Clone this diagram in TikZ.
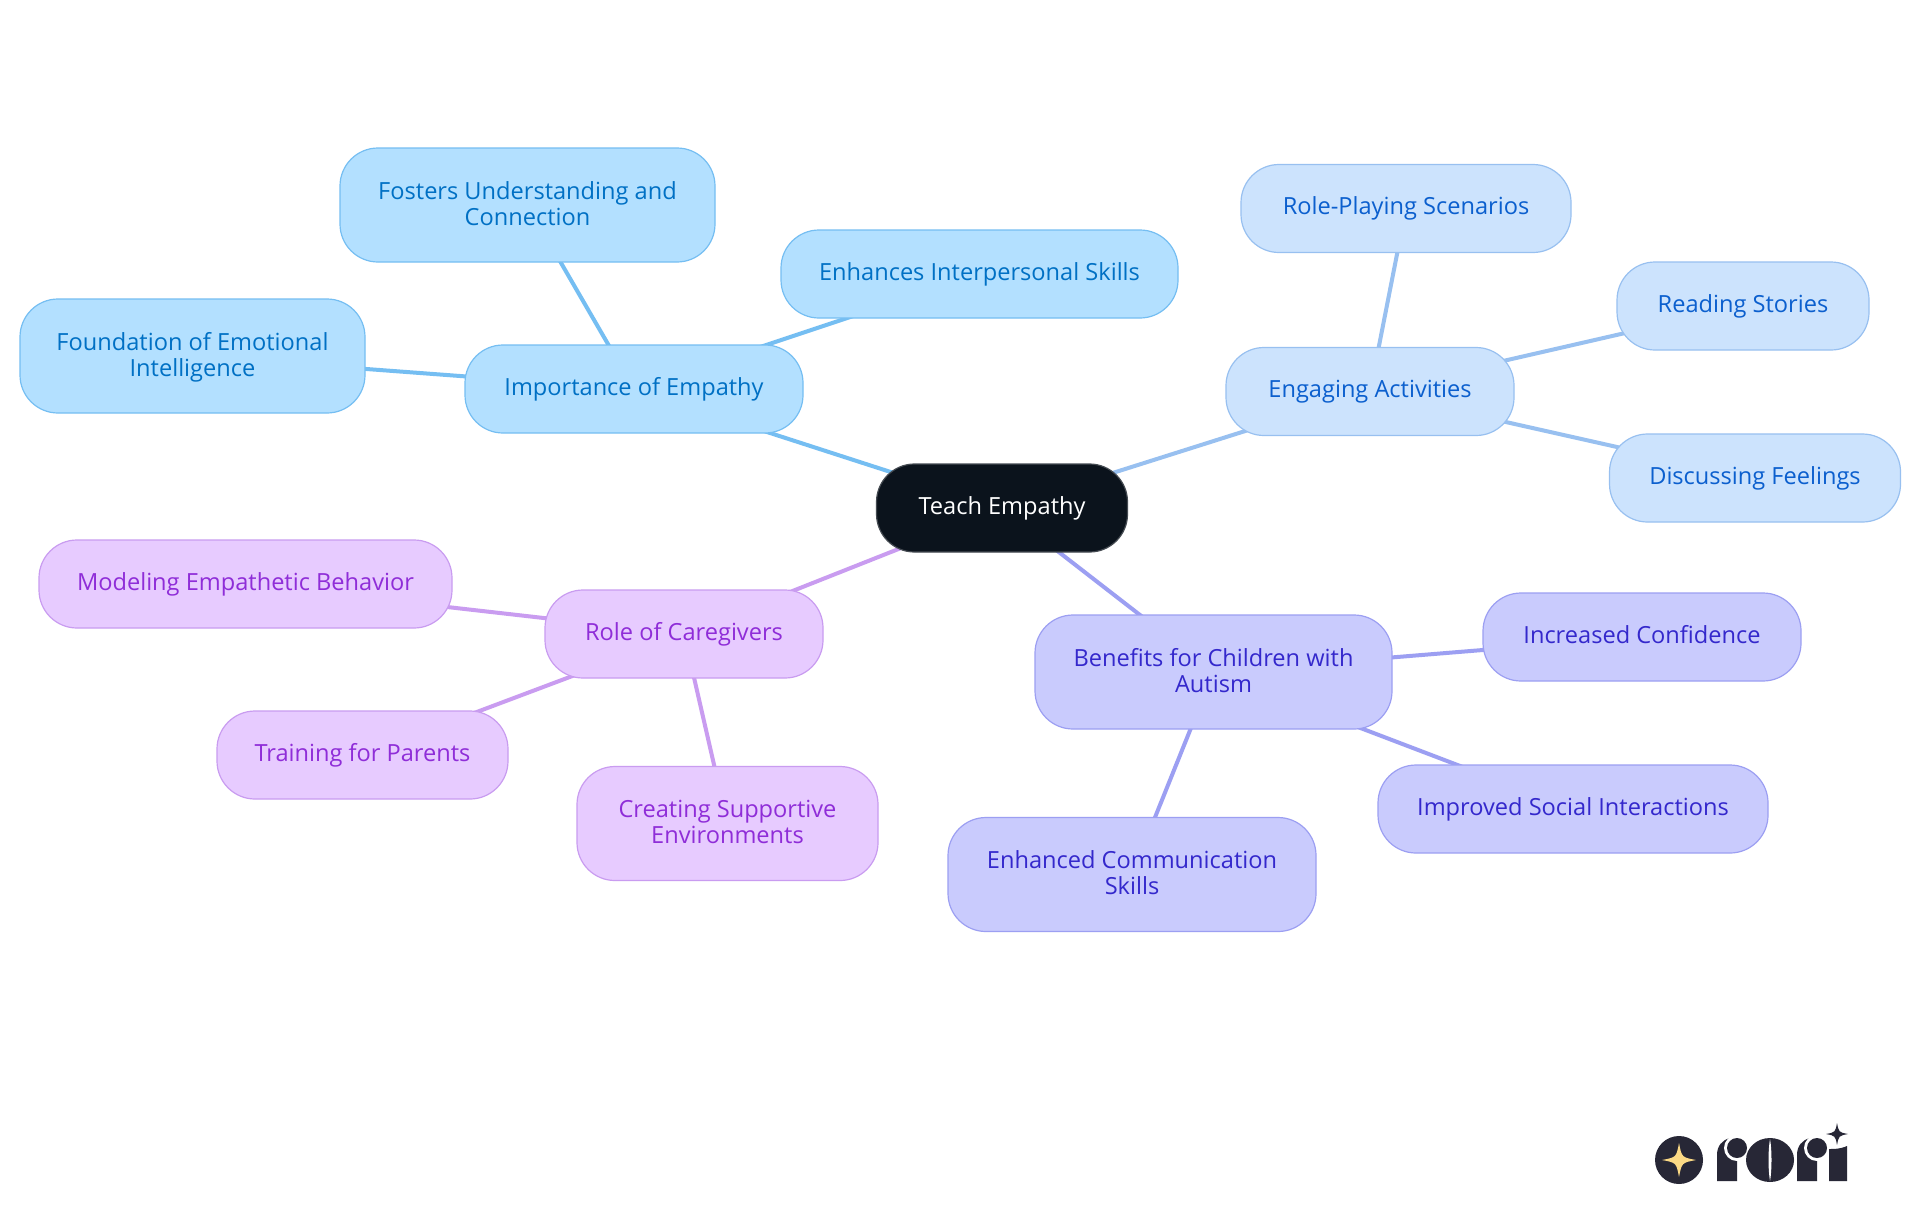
\documentclass[tikz,border=0pt]{standalone}
\usepackage{fontspec}
\setmainfont{Open Sans}
\usetikzlibrary{backgrounds}
\definecolor{rootfill}{HTML}{0B131C}
\definecolor{rootline}{HTML}{454B52}
\definecolor{skyfill}{HTML}{B3E0FF}
\definecolor{skyline}{HTML}{75BEF2}
\definecolor{skytext}{HTML}{0070C4}
\definecolor{palefill}{HTML}{CCE3FD}
\definecolor{paleline}{HTML}{98C0F0}
\definecolor{paletext}{HTML}{0B5FCE}
\definecolor{indigofill}{HTML}{C9CBFD}
\definecolor{indigoline}{HTML}{9C9FF2}
\definecolor{indigotext}{HTML}{3428CC}
\definecolor{lilacfill}{HTML}{E7CBFF}
\definecolor{lilacline}{HTML}{C99CF0}
\definecolor{lilactext}{HTML}{8F2DD8}
\definecolor{logoink}{HTML}{272736}
\definecolor{logostar}{HTML}{FBD985}
\newcommand{\sparkle}[4]{\fill[#4] (#1,#2-#3) .. controls (#1+0.16*#3,#2-0.16*#3) .. (#1+#3,#2) .. controls (#1+0.16*#3,#2+0.16*#3) .. (#1,#2+#3) .. controls (#1-0.16*#3,#2+0.16*#3) .. (#1-#3,#2) .. controls (#1-0.16*#3,#2-0.16*#3) .. cycle;}
\tikzset{
  x=0.5pt,y=-0.5pt,
  topic/.style={rounded corners=19pt,line width=0.6pt,inner sep=0pt,align=center,minimum height=44pt,
    text height=9.7pt,text depth=3.3pt,font=\fontsize{11.8}{13}\selectfont},
  twolines/.style={minimum height=57pt,text height=23.6pt,text depth=3.3pt},
  rootnode/.style={topic,fill=rootfill,draw=rootline,text=white},
  sky/.style={topic,fill=skyfill,draw=skyline,text=skytext},
  pale/.style={topic,fill=palefill,draw=paleline,text=paletext},
  indigo/.style={topic,fill=indigofill,draw=indigoline,text=indigotext},
  lilac/.style={topic,fill=lilacfill,draw=lilacline,text=lilactext},
  link/.style={line width=2pt}
}
\begin{document}
\begin{tikzpicture}
  \useasboundingbox (0,0) rectangle (1920,1215);

  \node (root) [rootnode,minimum width=125.5pt] at (1002,508) {Teach Empathy};

  \node (importance) [sky,minimum width=169pt] at (634,389) {Importance of Empathy};
  \node (fosters) [sky,twolines,minimum width=187.5pt] at (527.5,205) {Fosters Understanding and\\Connection};
  \node (interpersonal) [sky,minimum width=198.5pt] at (979.5,274) {Enhances Interpersonal Skills};
  \node (foundation) [sky,twolines,minimum width=172.5pt] at (192.5,356) {Foundation of Emotional\\Intelligence};

  \node (activities) [pale,minimum width=144pt] at (1370,391.5) {Engaging Activities};
  \node (roleplay) [pale,minimum width=165pt] at (1406,208.5) {Role-Playing Scenarios};
  \node (reading) [pale,minimum width=126pt] at (1743,306) {Reading Stories};
  \node (feelings) [pale,minimum width=145.5pt] at (1755,478) {Discussing Feelings};

  \node (benefits) [indigo,twolines,minimum width=178.5pt] at (1213.5,672) {Benefits for Children with\\Autism};
  \node (confidence) [indigo,minimum width=159pt] at (1642,637) {Increased Confidence};
  \node (social) [indigo,minimum width=195pt] at (1573,809) {Improved Social Interactions};
  \node (communication) [indigo,twolines,minimum width=184pt] at (1132,874.5) {Enhanced Communication\\Skills};

  \node (caregivers) [lilac,minimum width=139pt] at (684,634) {Role of Caregivers};
  \node (modeling) [lilac,minimum width=206.5pt] at (245.5,584) {Modeling Empathetic Behavior};
  \node (training) [lilac,minimum width=145.5pt] at (362.5,755) {Training for Parents};
  \node (supportive) [lilac,twolines,minimum width=150.5pt] at (727.5,823.5) {Creating Supportive\\Environments};

  \begin{scope}[on background layer]
    \fill[white] (0,0) rectangle (1920,1215);
    \draw[link,skyline] (root.center) -- (importance.center);
    \draw[link,skyline] (importance.center) -- (fosters.center);
    \draw[link,skyline] (importance.center) -- (interpersonal.center);
    \draw[link,skyline] (importance.center) -- (foundation.center);
    \draw[link,paleline] (root.center) -- (activities.center);
    \draw[link,paleline] (activities.center) -- (roleplay.center);
    \draw[link,paleline] (activities.center) -- (reading.center);
    \draw[link,paleline] (activities.center) -- (feelings.center);
    \draw[link,indigoline] (root.center) -- (benefits.center);
    \draw[link,indigoline] (benefits.center) -- (confidence.center);
    \draw[link,indigoline] (benefits.center) -- (social.center);
    \draw[link,indigoline] (benefits.center) -- (communication.center);
    \draw[link,lilacline] (root.center) -- (caregivers.center);
    \draw[link,lilacline] (caregivers.center) -- (modeling.center);
    \draw[link,lilacline] (caregivers.center) -- (training.center);
    \draw[link,lilacline] (caregivers.center) -- (supportive.center);
  \end{scope}

  % logo
  \fill[logoink] (1679,1160) circle [radius=24];
  \sparkle{1679}{1160}{17}{logostar}
  \fill[logoink] (1717,1181) -- (1717,1155) .. controls (1717,1146) and (1722,1140) .. (1730,1138) -- (1737,1138) -- (1737,1181) -- cycle;
  \fill[white] (1737,1148) circle [radius=13];
  \fill[logoink] (1737,1148) circle [radius=10];
  \fill[logoink] (1770,1160) ellipse [x radius=24,y radius=22];
  \fill[white] (1770,1139) .. controls (1772,1150) and (1772,1170) .. (1770,1181) .. controls (1768,1170) and (1768,1150) .. (1770,1139);
  \fill[logoink] (1797,1181) -- (1797,1155) .. controls (1797,1146) and (1802,1140) .. (1810,1138) -- (1817,1138) -- (1817,1181) -- cycle;
  \fill[white] (1817,1148) circle [radius=13];
  \fill[logoink] (1817,1148) circle [radius=10];
  \fill[logoink] (1829,1181) -- (1829,1149) .. controls (1835,1149) and (1840,1149) .. (1847,1146) -- (1847,1181) -- cycle;
  \sparkle{1837}{1134}{11}{logoink}
\end{tikzpicture}
\end{document}
